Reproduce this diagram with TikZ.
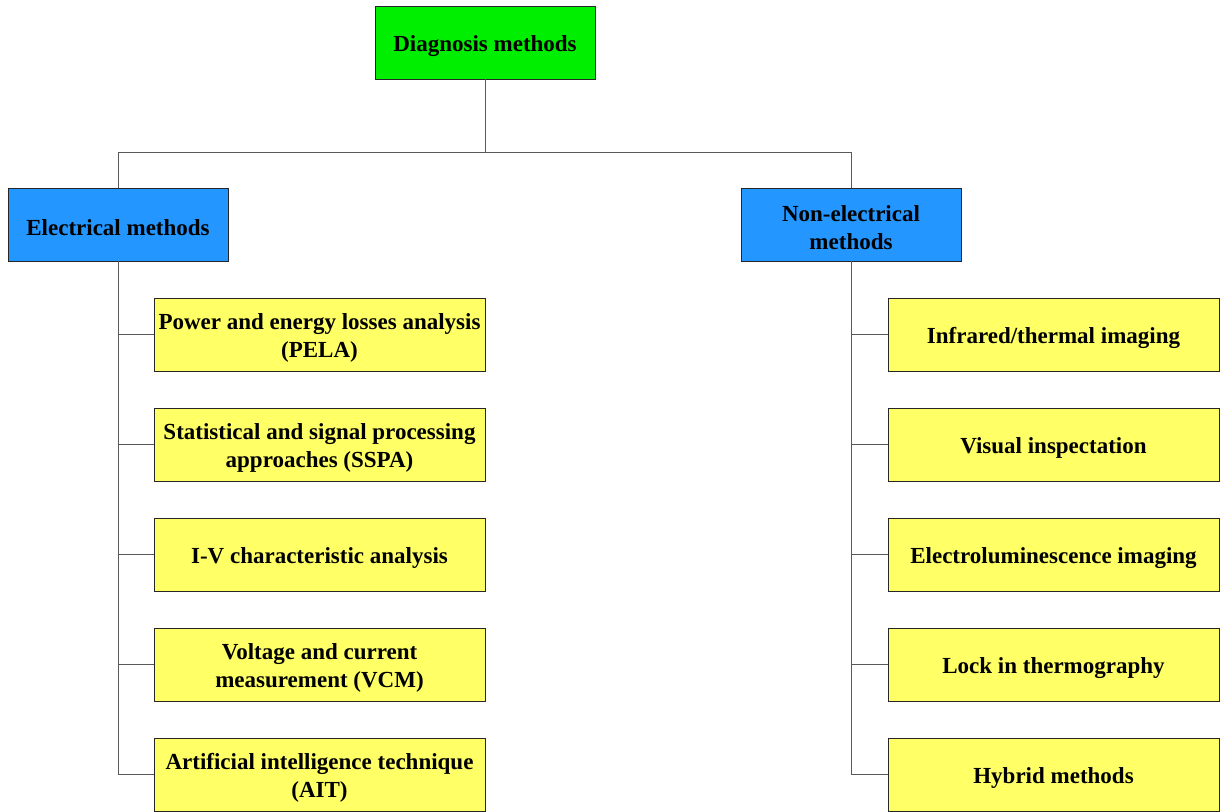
\documentclass[tikz,border=0pt]{standalone}
\usepackage{fontspec}
\setmainfont{Liberation Serif}
\begin{document}
\begin{tikzpicture}[x=0.75pt,y=-0.75pt,
  box/.style={draw=black!85, line width=0.6pt, minimum height=54.75pt, align=center,
    font=\bfseries\fontsize{17.25}{21}\selectfont, inner sep=0pt,
    execute at begin node={\rule{0pt}{17pt}}},
  twoline/.style={execute at begin node={\rule{0pt}{38pt}}},
  rootbox/.style={box, fill=rootgreen, minimum width=165pt},
  catbox/.style={box, fill=catblue, minimum width=165pt},
  leafbox/.style={box, fill=leafyellow, minimum width=248.25pt},
  link/.style={draw=black!65, line width=0.6pt}]
\definecolor{rootgreen}{RGB}{0,238,0}
\definecolor{catblue}{RGB}{35,150,255}
\definecolor{leafyellow}{RGB}{255,255,102}
\useasboundingbox (0,0) rectangle (1225,811);
\clip (0,0) rectangle (1225,811);

% root and the two families
\node[rootbox] (root) at (485,42.5) {Diagnosis methods};
\node[catbox] (elec) at (118,224.5) {Electrical methods};
\node[catbox, twoline] (nonelec) at (851,224.5) {Non-electrical\\methods};

% electrical techniques
\node[leafbox, twoline] (e1) at (319.5,334.5) {Power and energy losses analysis\\(PELA)};
\node[leafbox, twoline] (e2) at (319.5,444.5) {Statistical and signal processing\\approaches (SSPA)};
\node[leafbox] (e3) at (319.5,554.5) {I-V characteristic analysis};
\node[leafbox, twoline] (e4) at (319.5,664.5) {Voltage and current\\measurement (VCM)};
\node[leafbox, twoline] (e5) at (319.5,774.5) {Artificial intelligence technique\\(AIT)};

% non-electrical techniques
\node[leafbox] (n1) at (1053.5,334.5) {Infrared/thermal imaging};
\node[leafbox] (n2) at (1053.5,444.5) {Visual inspectation};
\node[leafbox] (n3) at (1053.5,554.5) {Electroluminescence imaging};
\node[leafbox] (n4) at (1053.5,664.5) {Lock in thermography};
\node[leafbox] (n5) at (1053.5,774.5) {Hybrid methods};

% tree connectors
\coordinate (bus) at (485,152);
\draw[link] (root.south) -- (bus);
\draw[link] (bus) -| (elec.north);
\draw[link] (bus) -| (nonelec.north);
\foreach \n in {e1,e2,e3,e4,e5}
  \draw[link] (elec.south) |- (\n.west);
\foreach \n in {n1,n2,n3,n4,n5}
  \draw[link] (nonelec.south) |- (\n.west);
\end{tikzpicture}
\end{document}
